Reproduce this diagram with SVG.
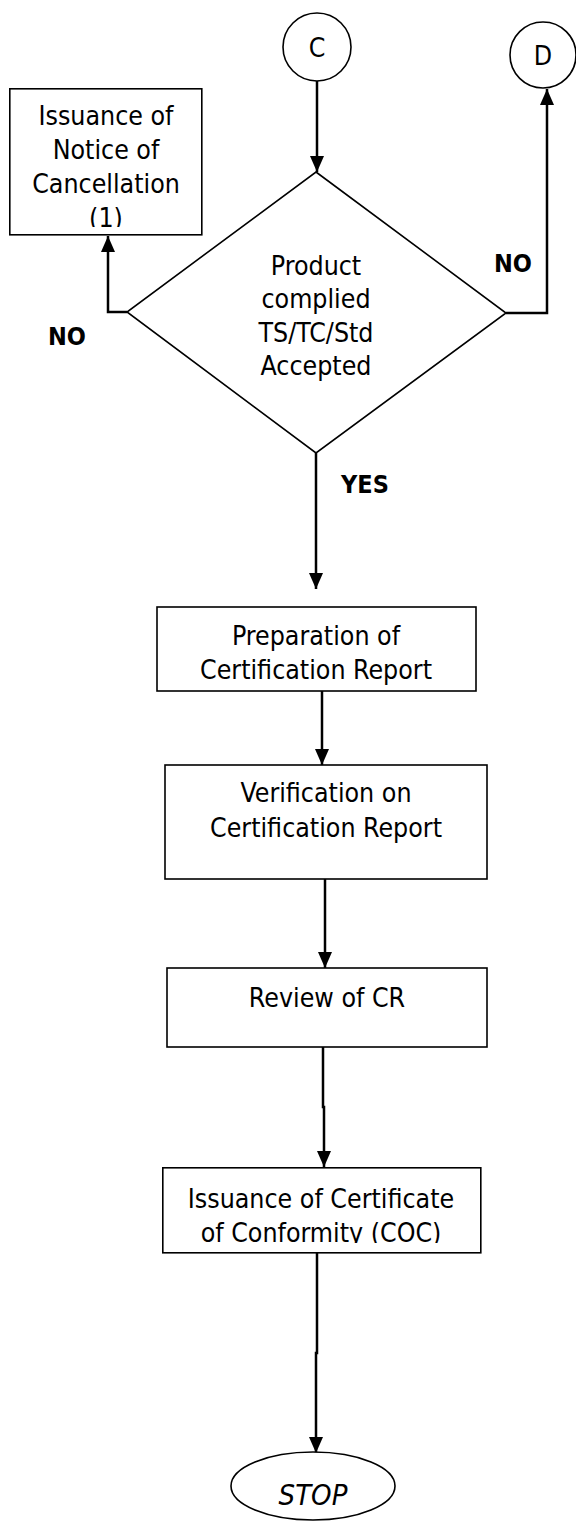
<svg xmlns="http://www.w3.org/2000/svg" width="576" height="1521" viewBox="0 0 576 1521">
<style>
.shape{fill:#fff;stroke:#000;stroke-width:1.6}
.t{font-family:"DejaVu Sans Condensed","DejaVu Sans",sans-serif;font-size:26.5px;fill:#000;text-anchor:middle}
.b{font-weight:bold;font-size:25px}
.i{font-style:italic;font-size:29px}
.c{fill:none;stroke:#000;stroke-width:2.5}
</style>
<defs>
<marker id="arr" markerWidth="16" markerHeight="14" refX="16" refY="7" orient="auto" markerUnits="userSpaceOnUse" viewBox="0 0 16 14">
<path d="M0,0 L16,7 L0,14 Z" fill="#000"/>
</marker>
</defs>
<g id="connectors">
<path class="c" d="M317,80 V172" marker-end="url(#arr)"/>
<path class="c" d="M127,312 H108 V236" marker-end="url(#arr)"/>
<path class="c" d="M506,313 H547 V89" marker-end="url(#arr)"/>
<path class="c" d="M316,453 V589" marker-end="url(#arr)"/>
<path class="c" d="M322,691 V765" marker-end="url(#arr)"/>
<path class="c" d="M325,879 V968" marker-end="url(#arr)"/>
<path class="c" d="M323,1047 V1107 H324 V1167" marker-end="url(#arr)"/>
<path class="c" d="M317,1253 V1353 H316 V1453" marker-end="url(#arr)"/>
</g>
<g id="node-C">
<circle class="shape" cx="317" cy="47" r="34"/>
<text class="t" x="317" y="57">C</text>
</g>
<g id="node-D">
<circle class="shape" cx="543" cy="55" r="33"/>
<text class="t" x="543" y="65">D</text>
</g>
<g id="node-notice">
<rect class="shape" x="9.8" y="88.8" width="192" height="146"/>
<svg x="9" y="88" width="194" height="139" overflow="hidden">
<text class="t" x="97" y="37">Issuance of</text>
<text class="t" x="97" y="71">Notice of</text>
<text class="t" x="97" y="105">Cancellation</text>
<text class="t" x="97" y="139">(1)</text>
</svg>
</g>
<g id="node-decision">
<polygon class="shape" points="316,172 506,313 316,453 127,312"/>
<text class="t" x="316" y="275">Product</text>
<text class="t" x="316" y="308">complied</text>
<text class="t" x="316" y="342">TS/TC/Std</text>
<text class="t" x="316" y="375">Accepted</text>
</g>
<g id="labels">
<text class="t b" x="67" y="345">NO</text>
<text class="t b" x="513" y="272">NO</text>
<text class="t b" x="365" y="493">YES</text>
</g>
<g id="node-prep">
<rect class="shape" x="157" y="607" width="319" height="84"/>
<text class="t" x="316" y="645">Preparation of</text>
<text class="t" x="316" y="679">Certification Report</text>
</g>
<g id="node-verify">
<rect class="shape" x="165" y="765" width="322" height="114"/>
<text class="t" x="326" y="802">Verification on</text>
<text class="t" x="326" y="837">Certification Report</text>
</g>
<g id="node-review">
<rect class="shape" x="167" y="968" width="320" height="79"/>
<text class="t" x="327" y="1007">Review of CR</text>
</g>
<g id="node-coc">
<rect class="shape" x="162.8" y="1167.8" width="318" height="85"/>
<svg x="162" y="1167" width="320" height="76" overflow="hidden">
<text class="t" x="159" y="41">Issuance of Certificate</text>
<text class="t" x="159" y="75">of Conformity (COC)</text>
</svg>
</g>
<g id="node-stop">
<ellipse class="shape" cx="313" cy="1486" rx="82" ry="34"/>
<text class="t i" x="313" y="1505">STOP</text>
</g>
</svg>
